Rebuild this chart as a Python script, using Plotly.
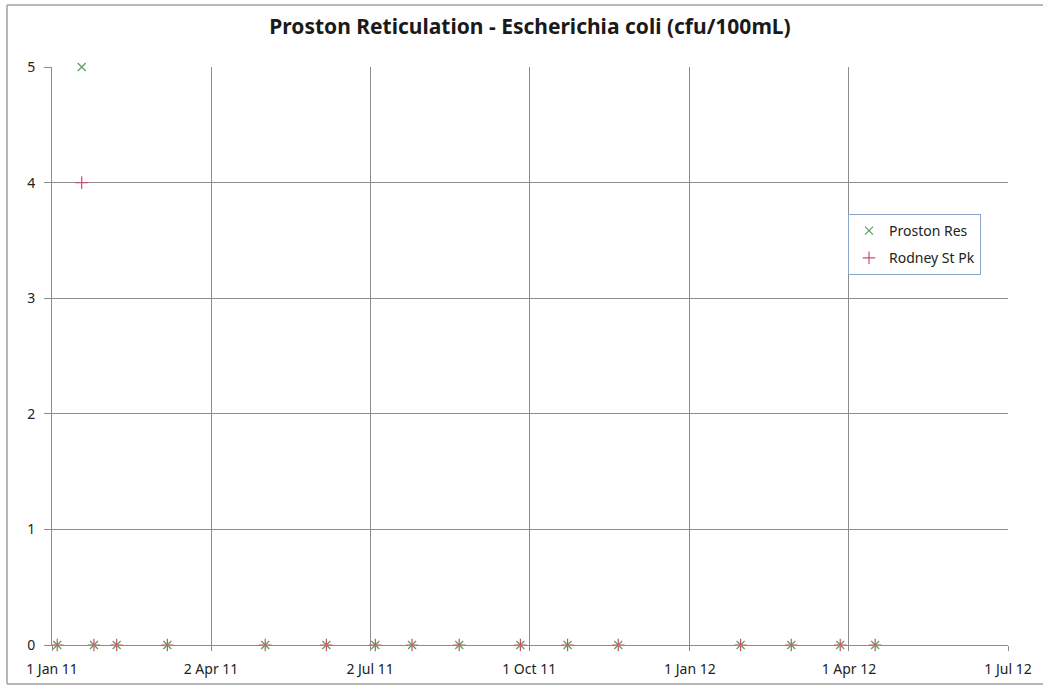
import plotly.graph_objects as go

W, H = 1043, 686
ML, MR, MT, MB = 52, 35, 67, 41

dates = ["2011-01-04", "2011-01-18", "2011-01-25", "2011-02-07", "2011-03-08", "2011-05-03",
         "2011-06-07", "2011-07-05", "2011-07-26", "2011-08-22", "2011-09-26", "2011-10-23",
         "2011-11-21", "2012-01-30", "2012-02-28", "2012-03-27", "2012-04-16"]
proston_res = [0, 5, 0, 0, 0, 0, 0, 0, 0, 0, 0, 0, 0, 0, 0, 0, 0]
rodney_st_pk = [0, 4, 0, 0, 0, 0, 0, 0, 0, 0, 0, 0, 0, 0, 0, 0, 0]

tick_dates = ["2011-01-01", "2011-04-02", "2011-07-02", "2011-10-01", "2012-01-01", "2012-04-01", "2012-07-01"]
tick_labels = ["1 Jan 11", "2 Apr 11", "2 Jul 11", "1 Oct 11", "1 Jan 12", "1 Apr 12", "1 Jul 12"]
y_ticks = [0, 1, 2, 3, 4, 5]

FONT = "Noto Sans, Liberation Sans, sans-serif"
GRID = "#8c8c8c"

fig = go.Figure()
fig.add_trace(go.Scatter(
    x=dates, y=proston_res, mode="markers", name="Proston Res", legendgroup="a",
    marker=dict(symbol="x-thin", size=8, color="#5a9e5a", line=dict(color="#5a9e5a", width=1.2)),
    cliponaxis=False))
fig.add_trace(go.Scatter(
    x=dates, y=rodney_st_pk, mode="markers", name="Rodney St Pk", legendgroup="b",
    marker=dict(symbol="cross-thin", size=9, color="#c8506a", line=dict(color="#c8506a", width=1.2)),
    cliponaxis=False))

pw = W - ML - MR
ph = H - MT - MB

fig.update_layout(
    width=W, height=H,
    margin=dict(l=ML, r=MR, t=MT, b=MB, autoexpand=False),
    paper_bgcolor="white", plot_bgcolor="white",
    font=dict(family=FONT, size=13, color="#222222"),
    title=dict(text="<b>Proston Reticulation - Escherichia coli (cfu/100mL)</b>",
               x=530 / W, xanchor="center", y=1 - 27 / H, yanchor="middle",
               font=dict(family=FONT, size=21, color="#1a1a1a")),
    showlegend=True,
    legend=dict(x=(848 - ML) / pw, y=1 - (214 - MT) / ph,
                xanchor="left", yanchor="top",
                bordercolor="#8aa6c8", borderwidth=1, bgcolor="white",
                font=dict(family=FONT, size=14, color="#222222"),
                tracegroupgap=6, itemwidth=30),
    xaxis=dict(type="date", range=["2011-01-01", "2012-07-01"],
               tickvals=tick_dates, ticktext=tick_labels,
               showgrid=True, gridcolor=GRID, gridwidth=1,
               showline=True, linecolor=GRID, linewidth=1,
               ticks="outside", ticklen=5, tickcolor=GRID,
               ticklabelstandoff=6, automargin=False,
               zeroline=False, tickfont=dict(size=14)),
    yaxis=dict(range=[0, 5], tickvals=y_ticks,
               showgrid=True, gridcolor=GRID, gridwidth=1,
               showline=True, linecolor=GRID, linewidth=1,
               ticks="outside", ticklen=7, tickcolor=GRID,
               ticklabelstandoff=6, automargin=False,
               zeroline=False, tickfont=dict(size=14)),
)

# chart-area border (left, top and bottom edges; right edge lies off the image)
bx0 = (7 - ML) / pw
bx1 = (1043 - ML) / pw
by0 = 1 - (684 - MT) / ph
by1 = 1 - (5 - MT) / ph
border = dict(color="#a0a0a0", width=1.5)
fig.add_shape(type="line", xref="paper", yref="paper", x0=bx0, x1=bx0, y0=by0, y1=by1, line=border, layer="below")
fig.add_shape(type="line", xref="paper", yref="paper", x0=bx0, x1=bx1, y0=by1, y1=by1, line=border, layer="below")
fig.add_shape(type="line", xref="paper", yref="paper", x0=bx0, x1=bx1, y0=by0, y1=by0, line=border, layer="below")

fig.write_html("out.html", config={"displayModeBar": False},
               post_script="document.body.style.margin='0';")
